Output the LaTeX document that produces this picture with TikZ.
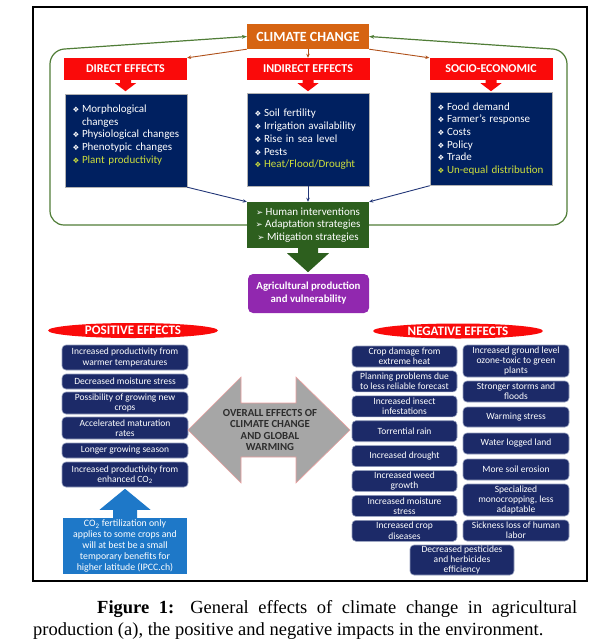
\documentclass[tikz,border=0pt]{standalone}
\usepackage{fontspec}
\setmainfont{Carlito}
\newfontfamily\capfont{Liberation Serif}
\newfontfamily\symfont{DejaVu Sans}
\usetikzlibrary{shapes.geometric,arrows.meta}

\definecolor{ccorange}{RGB}{214,100,18}
\definecolor{hdred}{RGB}{250,10,10}
\definecolor{navybox}{RGB}{0,32,96}
\definecolor{effnavy}{RGB}{28,42,104}
\definecolor{hlyellow}{RGB}{205,222,60}
\definecolor{adaptgreen}{RGB}{45,95,30}
\definecolor{loopgreen}{RGB}{80,125,55}
\definecolor{agripurple}{RGB}{145,40,175}
\definecolor{co2blue}{RGB}{30,120,200}
\definecolor{linkbrown}{RGB}{175,80,25}
\definecolor{linknavy}{RGB}{35,55,120}
\definecolor{arrowgray}{RGB}{166,166,166}
\definecolor{arrowrim}{RGB}{235,160,160}
\definecolor{effrim}{RGB}{150,160,190}

\newcommand{\fs}[2]{\fontsize{#1}{#2}\selectfont}
\newcommand{\bul}{\makebox[9.5pt][l]{\symfont\fs{7.5}{8}❖}}
\newcommand{\pnt}{{\symfont\fs{8.5}{9}➢}\ }

\tikzset{
    hdbox/.style={fill=hdred, text=white, font=\bfseries\fs{12}{13},
        minimum width=123pt, minimum height=22pt, inner sep=0pt},
    listbox/.style={fill=navybox, draw=gray!60, text=white, font=\fs{11}{12.7},
        align=left, text width=107pt, minimum width=122pt, minimum height=93pt,
        inner sep=7.5pt},
    effbox/.style={fill=effnavy, draw=effrim, line width=0.6pt, rounded corners=4pt,
        text=white, align=center, inner sep=0pt, font=\fs{9.5}{10.3}},
    titleell/.style={ellipse, fill=hdred, text=white, font=\bfseries\fs{13}{14},
        inner sep=0pt, minimum width=170pt, minimum height=15pt},
    linkb/.style={draw=linkbrown, line width=0.9pt, -{Stealth[length=4pt,width=3.5pt]}},
    linkn/.style={draw=linknavy, line width=0.9pt, -{Stealth[length=4pt,width=3.5pt]}},
    loopline/.style={draw=loopgreen, line width=1.2pt, rounded corners=14pt,
        -{Stealth[length=5pt,width=4pt]}}
}

\begin{document}
\begin{tikzpicture}[x=1pt, y=-1pt]
    \useasboundingbox (0,0) rectangle (599,641);
    \draw[line width=1.3pt] (33,7) rectangle (587,581);

    % top part
    \node[fill=ccorange, text=white, font=\bfseries\fs{14}{15}, minimum width=122pt,
        minimum height=25pt, inner sep=0pt] (climate) at (308,36.5) {CLIMATE CHANGE};

    \node[hdbox] (dirhd) at (125.5,69) {DIRECT EFFECTS};
    \node[hdbox] (indhd) at (308,69) {INDIRECT EFFECTS};
    \node[hdbox] (sochd) at (491,69) {SOCIO-ECONOMIC};
    \foreach \c in {dirhd, indhd, sochd} {
        \fill[hdred, shift={(\c.south)}] (-5.5,0) -- (-5.5,3) -- (-10.5,3) -- (0,11)
            -- (10.5,3) -- (5.5,3) -- (5.5,0) -- cycle;
    }

    \draw[linkb] (climate.south west) -- (dirhd.north east);
    \draw[linkb] (climate.south) -- (indhd.north);
    \draw[linkb] (climate.south east) -- (sochd.north west);

    \node[listbox] (dirlist) at (126,140.5) {\bul Morphological\\
        \hspace*{9.5pt}changes\\
        \bul Physiological changes\\
        \bul Phenotypic changes\\
        {\color{hlyellow}\bul Plant productivity}\\
        \mbox{}};
    \node[listbox] (indlist) at (308,139.5) {\bul Soil fertility\\
        \bul Irrigation availability\\
        \bul Rise in sea level\\
        \bul Pests\\
        {\color{hlyellow}\bul Heat/Flood/Drought}};
    \node[listbox] (soclist) at (491,139) {\bul Food demand\\
        \bul Farmer’s response\\
        \bul Costs\\
        \bul Policy\\
        \bul Trade\\
        {\color{hlyellow}\bul Un-equal distribution}};

    \node[fill=adaptgreen, text=white, font=\fs{11}{12.5}, align=center,
        minimum width=122pt, minimum height=46pt, inner sep=0pt] (adapt) at (308,225)
        {\pnt Human interventions\\ \pnt Adaptation strategies\\ \pnt Mitigation strategies};
    \fill[adaptgreen, shift={(adapt.south)}] (-10,-1) -- (-10,5) -- (-21,5) -- (0,24)
        -- (21,5) -- (10,5) -- (10,-1) -- cycle;

    \draw[linkn] (dirlist.south east) -- (adapt.north west);
    \draw[linkn] (indlist.south) -- (adapt.north);
    \draw[linkn] (soclist.south west) -- (adapt.north east);

    \draw[loopline] (adapt.west) -- (50,225) -- (50,50) -- (climate.west);
    \draw[loopline] (adapt.east) -- (567,225) -- (567,50) -- (climate.east);

    \node[fill=agripurple, rounded corners=5pt, text=white, font=\bfseries\fs{10.8}{13},
        align=center, minimum width=121pt, minimum height=39pt, inner sep=0pt] (agri)
        at (308.5,293.5) {Agricultural production\\and vulnerability};

    % bottom part
    \node[titleell] (posttl) at (133,330.5) {POSITIVE EFFECTS};
    \node[titleell] (negttl) at (458,331) {NEGATIVE EFFECTS};

    \foreach [count=\i] \yc/\hh/\txt in {
        357.5/25/{Increased productivity from\\warmer temperatures},
        381.5/15/{Decreased moisture stress},
        403/22/{Possibility of growing new\\crops},
        428/22/{Accelerated maturation\\rates},
        450.5/15/{Longer growing season},
        474.5/25/{Increased productivity from\\enhanced CO\textsubscript{2}}} {
        \node[effbox, minimum width=126pt, minimum height=\hh pt] (pos\i) at (125,\yc) {\txt};
    }

    \node[fill=co2blue, text=white, font=\fs{9.8}{11}, align=center, minimum width=124pt,
        minimum height=56pt, inner sep=0pt] (co2) at (125,546)
        {CO\textsubscript{2} fertilization only\\applies to some crops and\\will at best be a small\\temporary benefits for\\higher latitude (IPCC.ch)};
    \fill[co2blue, shift={(co2.north)}] (-12,1) -- (-12,-8) -- (-25.5,-8) -- (0,-29)
        -- (25.5,-8) -- (12,-8) -- (12,1) -- cycle;

    \filldraw[fill=arrowgray, draw=arrowrim, line width=0.6pt] (188,430) -- (241,377)
        -- (241,403) -- (296,403) -- (296,377) -- (350,430) -- (296,483) -- (296,457)
        -- (241,457) -- (241,483) -- cycle;
    \node[text={rgb,255:red,45;green,45;blue,45}, font=\bfseries\fs{10.8}{11.5}, align=center]
        (overall) at (270,430) {OVERALL EFFECTS OF\\CLIMATE CHANGE\\AND GLOBAL\\WARMING};

    \foreach [count=\i] \txt in {{Crop damage from\\extreme heat},
        {Planning problems due\\to less reliable forecast},
        {Increased insect\\infestations}, {Torrential rain}, {Increased drought},
        {Increased weed\\growth}, {Increased moisture\\stress},
        {Increased crop\\diseases}} {
        \node[effbox, minimum width=105pt, minimum height=21pt] (negl\i)
            at (404.5,{331.6+24.9*\i}) {\txt};
    }
    \foreach [count=\i] \yc/\hh/\txt in {
        361/32/{Increased ground level\\ozone-toxic to green\\plants},
        391.5/21/{Stronger storms and\\floods},
        417/20/{Warming stress},
        443.5/21/{Water logged land},
        469.5/21/{More soil erosion},
        500/32/{Specialized\\monocropping, less\\adaptable},
        530.5/21/{Sickness loss of human\\labor}} {
        \node[effbox, minimum width=106pt, minimum height=\hh pt] (negr\i) at (516,\yc) {\txt};
    }
    \node[effbox, minimum width=104pt, minimum height=30pt] (negc) at (462,560)
        {Decreased pesticides\\and herbicides\\efficiency};

    % caption
    \node[anchor=base west, inner sep=0pt, font=\capfont\fs{18.5}{22}] (cap1) at (97,613)
        {\makebox[480pt][s]{\textbf{Figure 1:} General effects of climate change in agricultural}};
    \node[anchor=base west, inner sep=0pt, font=\capfont\fs{18.5}{22}] (cap2) at (33,635)
        {production (a), the positive and negative impacts in the environment.};
\end{tikzpicture}
\end{document}
